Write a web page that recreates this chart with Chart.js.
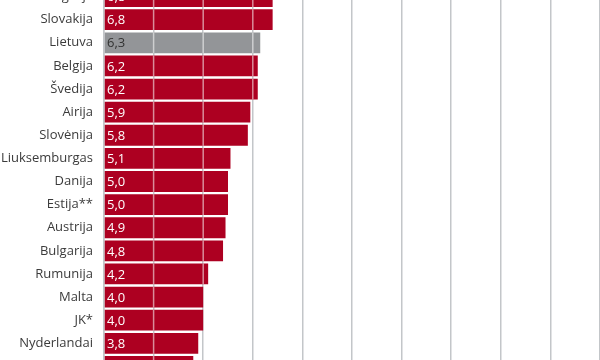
<!DOCTYPE html>
<html>
<head>
<meta charset="utf-8">
<script src="https://cdn.jsdelivr.net/npm/chart.js@4"></script>
<style>
    html, body { margin: 0; padding: 0; background: #fff; overflow: hidden; }
    #wrap { width: 600px; height: 360px; }
</style>
</head>
<body>
<div id="wrap"><canvas id="bars" width="600" height="360"></canvas></div>
<script>
document.addEventListener('DOMContentLoaded', init);

const countries = ['Portugalija', 'Slovakija', 'Lietuva', 'Belgija', 'Švedija', 'Airija', 'Slovėnija',
    'Liuksemburgas', 'Danija', 'Estija**', 'Austrija', 'Bulgarija', 'Rumunija', 'Malta', 'JK*',
    'Nyderlandai', 'Vokietija'];
const values = [6.8, 6.8, 6.3, 6.2, 6.2, 5.9, 5.8, 5.1, 5.0, 5.0, 4.9, 4.8, 4.2, 4.0, 4.0, 3.8, 3.6];
const highlight = 'Lietuva';
const xTicks = [0, 2, 4, 6, 8, 10, 12, 14, 16, 18, 20];

const red = '#ad0021';
const grey = '#939598';

let canvas1, ctx1;

function init() {
    canvas1 = document.getElementById('bars');
    ctx1 = canvas1.getContext('2d');
    createBars();
}

// the reference is a crop of a taller chart: stretch the row axis past the frame
const cropRows = {
    id: 'cropRows',
    afterLayout(chart) {
        const ys = chart.scales.y;
        const top = -15, bottom = 378;
        ys.top = top;
        ys.bottom = bottom;
        ys.height = bottom - top;
        ys.configure();
        chart.chartArea.top = top;
        chart.chartArea.bottom = bottom;
        chart.chartArea.height = bottom - top;
    }
};

// light lines through the bars + value text inside bars
const barExtras = {
    id: 'barExtras',
    afterDatasetsDraw(chart) {
        const ctx = chart.ctx;
        const xs = chart.scales.x;
        const meta = chart.getDatasetMeta(0);
        ctx.save();
        meta.data.forEach((bar, i) => {
            const top = bar.y - bar.height / 2;
            ctx.strokeStyle = 'rgba(255,255,255,0.55)';
            ctx.lineWidth = 1.5;
            xTicks.forEach(t => {
                if (t > 0 && t < values[i]) {
                    const px = xs.getPixelForValue(t);
                    ctx.beginPath();
                    ctx.moveTo(px, top);
                    ctx.lineTo(px, top + bar.height);
                    ctx.stroke();
                }
            });
            ctx.font = '13px "Open Sans"';
            ctx.textBaseline = 'middle';
            ctx.textAlign = 'left';
            ctx.fillStyle = countries[i] === highlight ? '#333' : '#fff';
            ctx.fillText(values[i].toFixed(1).replace('.', ','), xs.getPixelForValue(0) + 3, bar.y + 1);
        });
        ctx.restore();
    }
};

function createBars() {
    new Chart(ctx1,
        {
            type: 'bar',
            data: {
                labels: countries,
                datasets: [
                    {
                        data: values,
                        backgroundColor: countries.map(c => c === highlight ? grey : red),
                        barPercentage: 0.9,
                        categoryPercentage: 1
                    }
                ]
            },
            options: {
                indexAxis: 'y',
                responsive: false,
                animation: false,
                layout: { padding: 0 },
                plugins: {
                    legend: { display: false },
                    tooltip: { enabled: false }
                },
                scales: {
                    x: {
                        min: 0,
                        max: 20,
                        afterBuildTicks: s => { s.ticks = xTicks.map(v => ({ value: v })); },
                        ticks: { display: false },
                        border: { display: false },
                        grid: { color: '#c3c6c9', lineWidth: 1.5, drawTicks: false }
                    },
                    y: {
                        afterFit: s => { s.width = 104; },
                        ticks: {
                            padding: 11,
                            color: '#3b3b3b',
                            font: { family: 'Open Sans', size: 13 }
                        },
                        border: { color: '#c3c6c9', width: 1.5 },
                        grid: { display: false, drawTicks: false }
                    }
                }
            },
            plugins: [cropRows, barExtras]
        });
}
</script>
</body>
</html>
